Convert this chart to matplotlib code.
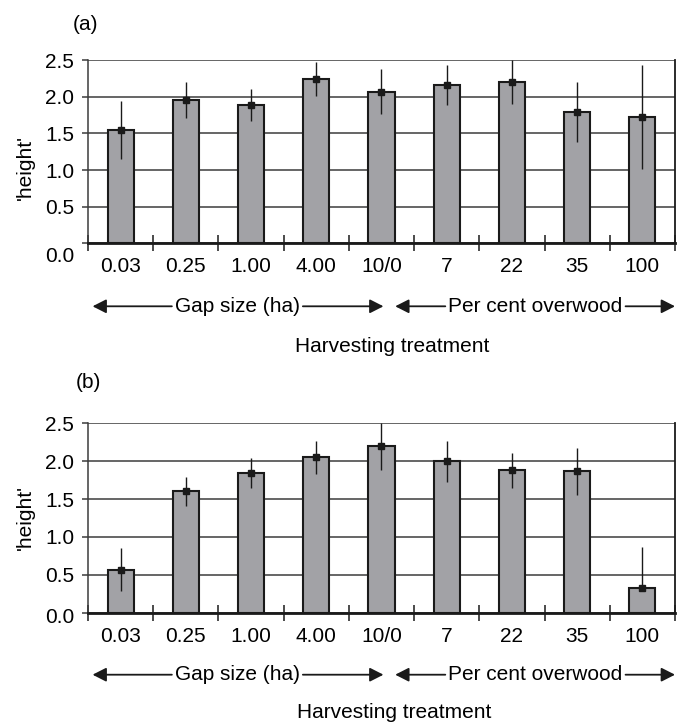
"""Height by harvesting treatment, two panels (a) and (b), bar + error bars."""
import numpy as np
import matplotlib
matplotlib.use("Agg")
import matplotlib.pyplot as plt
from matplotlib.transforms import ScaledTranslation

plt.rcParams["font.family"] = ["Liberation Sans", "DejaVu Sans"]
plt.rcParams["font.size"] = 15

CATEGORIES = ["0.03", "0.25", "1.00", "4.00", "10/0", "7", "22", "35", "100"]
Y_TICKS = [0.0, 0.5, 1.0, 1.5, 2.0, 2.5]

# panel (a)
MEAN_A = [1.55, 1.96, 1.89, 2.24, 2.07, 2.16, 2.20, 1.79, 1.72]
ERR_A = [0.40, 0.25, 0.22, 0.23, 0.31, 0.27, 0.30, 0.41, 0.71]

# panel (b)  (lower error of last bar not drawn in the original)
MEAN_B = [0.57, 1.60, 1.84, 2.05, 2.20, 2.00, 1.88, 1.87, 0.32]
ERR_B_UP = [0.29, 0.19, 0.20, 0.22, 0.31, 0.27, 0.23, 0.31, 0.55]
ERR_B_LO = [0.29, 0.19, 0.20, 0.22, 0.31, 0.27, 0.23, 0.31, 0.0]

W, H = 677, 724
DPI = 100
BAR_COLOR = "#a2a2a6"
GRID_COLOR = "#3c3c3c"


def px_axes(left, top, right, bottom):
    return [left / W, 1 - bottom / H, (right - left) / W, (bottom - top) / H]


def draw_panel(fig, ax, means, err_lo, err_hi, zero_shift_px):
    x = np.arange(len(CATEGORIES))
    ax.bar(x, means, width=0.4, color=BAR_COLOR, edgecolor="#1a1a1a",
           linewidth=1.5, zorder=3)
    ax.errorbar(x, means, yerr=[err_lo, err_hi], fmt="s", color="#1a1a1a",
                ecolor="#1a1a1a", elinewidth=1.0, markersize=4.5, capsize=0,
                zorder=4, clip_on=False)
    ax.set_xlim(-0.5, len(CATEGORIES) - 0.5)
    ax.set_ylim(0, 2.5)

    ax.set_yticks(Y_TICKS, labels=[f"{v:.1f}" for v in Y_TICKS])
    ax.yaxis.grid(True, color=GRID_COLOR, linewidth=1.1, zorder=1)
    ax.set_axisbelow(True)
    ax.tick_params(axis="y", length=4, width=1.1, color=GRID_COLOR, pad=6,
                   labelsize=15)

    # boundary ticks crossing the axis, labels at bar centres
    ax.set_xticks(np.arange(-0.5, len(CATEGORIES), 1.0), labels=[])
    ax.tick_params(axis="x", which="major", direction="inout", length=12,
                   width=1.1, color="#1a1a1a")
    ax.set_xticks(x, labels=CATEGORIES, minor=True)
    ax.tick_params(axis="x", which="minor", length=0, pad=10, labelsize=15)

    for side in ["top"]:
        ax.spines[side].set_visible(False)
    ax.spines["left"].set_color(GRID_COLOR)
    ax.spines["left"].set_linewidth(1.1)
    ax.spines["right"].set_color("#1a1a1a")
    ax.spines["right"].set_linewidth(1.3)
    ax.spines["bottom"].set_color("#1a1a1a")
    ax.spines["bottom"].set_linewidth(2.0)

    lbl = ax.get_yticklabels()[0]
    lbl.set_transform(lbl.get_transform() +
                      ScaledTranslation(0, -zero_shift_px / DPI, fig.dpi_scale_trans))


def arrow_row(fig, ax, row_px):
    """Gap size / Per cent overwood labels with arrows, row_px below the axis."""
    ax_h = ax.get_window_extent().height
    y = -row_px / ax_h
    tr = ax.get_xaxis_transform()
    t1 = ax.text(1.79, y, "Gap size (ha)", transform=tr, ha="center",
                 va="center", fontsize=15)
    t2 = ax.text(6.36, y, "Per cent overwood", transform=tr, ha="center",
                 va="center", fontsize=15)
    fig.canvas.draw()
    inv = ax.transData.inverted()
    gap = 3
    b1 = t1.get_window_extent()
    b2 = t2.get_window_extent()
    l1 = inv.transform((b1.x0 - gap, 0))[0]
    r1 = inv.transform((b1.x1 + gap, 0))[0]
    l2 = inv.transform((b2.x0 - gap, 0))[0]
    r2 = inv.transform((b2.x1 + gap, 0))[0]
    style = dict(arrowstyle="-|>,head_length=0.55,head_width=0.28",
                 color="#1a1a1a", lw=1.3, shrinkA=0, shrinkB=0)
    for start, tip in [(l1, -0.43), (r1, 4.03), (l2, 4.21), (r2, 8.5)]:
        ax.annotate("", xy=(tip, y), xytext=(start, y), xycoords=tr,
                    textcoords=tr, arrowprops=style, annotation_clip=False)


def main():
    fig = plt.figure(figsize=(W / DPI, H / DPI), dpi=DPI)
    ax_a = fig.add_axes(px_axes(88, 60.3, 675, 243.3))
    ax_b = fig.add_axes(px_axes(88, 423.3, 675, 612.7))

    draw_panel(fig, ax_a, MEAN_A, ERR_A, ERR_A, zero_shift_px=11)
    draw_panel(fig, ax_b, MEAN_B, ERR_B_LO, ERR_B_UP, zero_shift_px=3)

    arrow_row(fig, ax_a, 63)
    arrow_row(fig, ax_b, 62)

    fig.text(85 / W, 1 - 24 / H, "(a)", ha="center", va="center", fontsize=15)
    fig.text(88 / W, 1 - 382 / H, "(b)", ha="center", va="center", fontsize=15)
    fig.text(25 / W, 1 - 168 / H, "'height'", rotation=90, ha="center",
             va="center", fontsize=15)
    fig.text(25 / W, 1 - 518 / H, "'height'", rotation=90, ha="center",
             va="center", fontsize=15)
    fig.text(392 / W, 1 - 346 / H, "Harvesting treatment", ha="center",
             va="center", fontsize=15)
    fig.text(394 / W, 1 - 713 / H, "Harvesting treatment", ha="center",
             va="center", fontsize=15)

    fig.savefig("out.png", dpi=DPI)
    plt.close(fig)


if __name__ == "__main__":
    main()
